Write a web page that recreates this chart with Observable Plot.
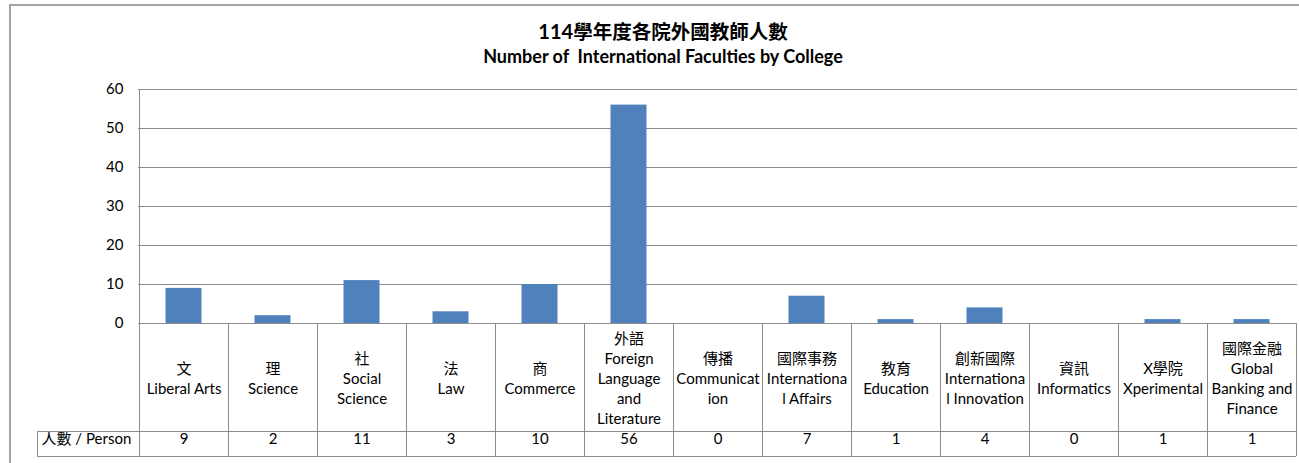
<!DOCTYPE html>
<html><head><meta charset="utf-8">
<script src="https://cdn.jsdelivr.net/npm/d3@7"></script>
<script src="https://cdn.jsdelivr.net/npm/@observablehq/plot@0.6"></script>
<style>
body{margin:0;background:#fff;}
#wrap{position:relative;width:1299px;height:463px;overflow:hidden;font-family:Lato,"Noto Sans CJK TC",sans-serif;color:#000;}
#frame{position:absolute;left:9px;top:4px;width:1400px;height:600px;border-left:2px solid #a2a2a2;border-top:2px solid #a2a2a2;}
#title{position:absolute;left:0;top:19px;width:1326px;text-align:center;font-weight:bold;}
#title div{height:25px;line-height:25px;white-space:pre;}
#t1{font-size:19.5px;}
#t1 .num{font-size:20px;}
#t2{font-size:18px;}
#chart{position:absolute;left:0;top:70px;}
</style>
</head><body>
<div id="wrap"><div id="frame"></div><div id="title"><div id="t1"></div><div id="t2"></div></div><div id="chart"></div></div>
<script>
const titleZh = "114學年度各院外國教師人數";
const titleEn = "Number of  International Faculties by College";
const categories = [
  "文\nLiberal Arts",
  "理\nScience",
  "社\nSocial\nScience",
  "法\nLaw",
  "商\nCommerce",
  "外語\nForeign\nLanguage\nand\nLiterature",
  "傳播\nCommunicat\nion",
  "國際事務\nInternationa\nl Affairs",
  "教育\nEducation",
  "創新國際\nInternationa\nl Innovation",
  "資訊\nInformatics",
  "X學院\nXperimental",
  "國際金融\nGlobal\nBanking and\nFinance"
];
const values = [9, 2, 11, 3, 10, 56, 0, 7, 1, 4, 0, 1, 1];
const rowLabel = "人數 / Person";
const yTicks = [0, 10, 20, 30, 40, 50, 60];

const data = categories.map((c, i) => ({category: c, value: values[i]}));

document.getElementById("t1").innerHTML = titleZh.replace(/(\d+)/, '<span class="num">$1</span>');
document.getElementById("t2").textContent = titleEn;

const lineColor = "#8c8c8c";
const chart = Plot.plot({
  width: 1299, height: 393,
  marginTop: 19, marginBottom: 140, marginLeft: 138, marginRight: 2,
  style: {fontFamily: "Lato, 'Noto Sans CJK TC', sans-serif", fontSize: "15px", background: "transparent", overflow: "visible", color: "#000"},
  x: {domain: categories, padding: 0, axis: null},
  y: {domain: [0, 60], ticks: yTicks, tickSize: 0, tickPadding: 15, label: null, tickFormat: d => String(d)},
  marks: [
    Plot.ruleY(yTicks, {stroke: lineColor}),
    Plot.barY(data, {x: "category", y: "value", fill: "#4F81BD", insetLeft: 26.5, insetRight: 26.5}),
    Plot.text(data, {x: "category", text: "category", frameAnchor: "bottom", lineAnchor: "middle", dy: 54, lineHeight: 1.333, fontSize: 15}),
    Plot.text(data, {x: "category", text: d => String(d.value), frameAnchor: "bottom", dy: 120.5, fontSize: 15}),
    Plot.text([rowLabel], {text: d => d, frameAnchor: "bottom-left", textAnchor: "start", dx: -97, dy: 120.5, fontSize: 15})
  ]
});
document.getElementById("chart").appendChild(chart);

// data-table grid, placed from the chart's own scales
const xs = chart.scale("x");
const ys = chart.scale("y");
const y0 = ys.apply(0), yTop = ys.apply(60);
const rowTop = y0 + 108, rowBot = y0 + 133;
const edges = categories.map(c => xs.apply(c)).concat([xs.apply(categories[categories.length - 1]) + xs.bandwidth]);
const g = d3.select(chart).append("g").attr("stroke", lineColor).attr("stroke-width", 1).attr("shape-rendering", "crispEdges");
edges.forEach((x, i) => {
  g.append("line").attr("x1", x).attr("x2", x).attr("y1", i === 0 ? yTop : y0).attr("y2", rowBot);
});
const xLeft = 37, xRight = edges[edges.length - 1];
[rowTop, rowBot].forEach(y => g.append("line").attr("x1", xLeft).attr("x2", xRight).attr("y1", y).attr("y2", y));
g.append("line").attr("x1", xLeft).attr("x2", xLeft).attr("y1", rowTop).attr("y2", rowBot);
</script>
</body></html>
